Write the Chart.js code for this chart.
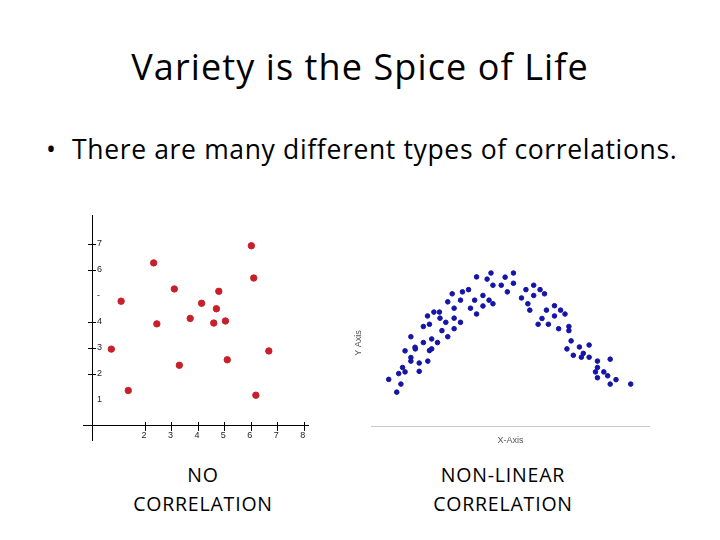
<!DOCTYPE html>
<html>
<head>
  <title>Variety is the Spice of Life</title>
  <script src="https://cdn.jsdelivr.net/npm/chart.js"></script>
  <style>
    body { margin: 0; background: #fff; width: 720px; height: 540px; overflow: hidden; position: relative; font-family: "Open Sans", Lato, sans-serif; color: #000; }
    .txt { position: absolute; white-space: nowrap; }
    #title { left: 0; width: 720px; top: 42px; text-align: center; font-size: 36px; letter-spacing: 1.1px; }
    #bullet { left: 46px; top: 131px; font-size: 26.5px; letter-spacing: 0.65px; }
    #bullet span { display: inline-block; width: 26px; }
    .label { text-align: center; font-size: 19.5px; line-height: 29px; top: 460px; width: 240px; letter-spacing: 0.8px; }
    #lbl1 { left: 83px; }
    #lbl2 { left: 383px; }
    canvas { position: absolute; }
    #noCorr { left: 60px; top: 200px; }
    #nonLin { left: 345px; top: 240px; }
  </style>
</head>
<body>
  <div class="txt" id="title">Variety is the Spice of Life</div>
  <div class="txt" id="bullet"><span>•</span>There are many different types of correlations.</div>
  <div class="txt label" id="lbl1">NO<br>CORRELATION</div>
  <div class="txt label" id="lbl2">NON-LINEAR<br>CORRELATION</div>

  <canvas id="noCorr" width="270" height="260"></canvas>
  <canvas id="nonLin" width="320" height="230"></canvas>

  <script>
    // --- DATA ---

    // left chart: scattered points, no correlation
    const noCorrX = [0.73, 1.10, 1.37, 2.33, 2.45, 3.11, 3.30, 3.71, 4.14, 4.60, 4.70, 4.79, 5.04, 5.11, 6.02, 6.11, 6.19, 6.68];
    const noCorrY = [2.95, 4.79, 1.36, 6.26, 3.92, 5.26, 2.33, 4.13, 4.71, 3.95, 4.50, 5.17, 4.03, 2.54, 6.92, 5.68, 1.18, 2.88];
    const xTickVals = [2, 3, 4, 5, 6, 7, 8];
    const xTickLabels = ['2', '3', '4', '5', '6', '7', '8'];
    const yTickVals = [1, 2, 3, 4, 5, 6, 7];
    const yTickLabels = ['1', '2', '3', '4', '-', '6', '7'];
    const yNoTick = [1, 5]; // these labels have no tick mark

    // right chart: arch shaped cloud, non-linear correlation
    const nonLinX = [6.1, 9.0, 9.7, 10.5, 11.1, 12.0, 12.0, 14.1, 14.1, 14.1, 15.6, 15.7, 17.1, 17.1, 18.6, 18.6,
      20.1, 20.2, 20.8, 20.8, 21.6, 21.6, 22.4, 23.7, 24.4, 24.6, 25.3, 26.7, 27.4, 27.4, 29.0, 29.7, 29.7, 29.7,
      32.0, 32.0, 32.7, 34.9, 35.6, 37.1, 37.8, 37.8, 40.1, 40.1, 41.6, 42.3, 43.0, 43.7, 43.7, 46.7, 48.1, 48.9,
      51.1, 51.1, 54.0, 55.6, 56.3, 57.0, 58.4, 58.4, 60.0, 60.7, 61.4, 62.3, 63.0, 63.7, 65.9, 65.9, 67.4, 68.1,
      69.7, 71.1, 71.1, 71.9, 70.4, 72.7, 74.9, 75.6, 76.3, 78.4, 78.4, 80.7, 81.4, 81.4, 81.4, 83.7, 85.1, 86.0,
      86.0, 88.1, 93.4];
    const nonLinY = [16.9, 12.3, 19.0, 15.2, 21.2, 19.6, 27.2, 32.3, 24.8, 23.5, 28.5, 27.9, 22.8, 19.8, 36.0, 30.2,
      39.8, 23.5, 36.8, 27.3, 31.5, 27.9, 41.2, 30.2, 41.2, 39.0, 34.5, 37.5, 32.3, 44.9, 47.8, 42.6, 39.0, 35.2,
      45.5, 37.5, 48.5, 49.3, 42.6, 45.5, 53.9, 40.5, 47.2, 43.4, 53.1, 45.5, 55.3, 50.9, 44.2, 50.9, 53.8, 48.5,
      55.3, 51.6, 46.3, 49.3, 44.2, 41.9, 50.9, 47.2, 36.8, 49.3, 38.9, 47.8, 41.9, 36.8, 43.5, 39.8, 35.2, 41.9,
      40.5, 36.0, 34.5, 30.8, 27.9, 25.6, 28.6, 24.9, 26.3, 29.3, 24.9, 19.6, 23.5, 21.2, 17.5, 19.6, 18.2, 24.2,
      15.2, 16.8, 15.2];

    const toPoints = (xs, ys) => xs.map((x, i) => ({ x: x, y: ys[i] }));

    // crossing tick marks + labels for the axes that sit at x=0 / y=0
    const crossTicks = {
      id: 'crossTicks',
      afterDraw(chart) {
        const { ctx, scales: { x, y } } = chart;
        const x0 = x.getPixelForValue(0), y0 = y.getPixelForValue(0);
        ctx.save();
        ctx.strokeStyle = '#000';
        ctx.lineWidth = 1;
        ctx.fillStyle = '#222';
        ctx.font = '9px "Liberation Sans"';
        ctx.beginPath();
        xTickVals.forEach((v, i) => {
          const px = Math.round(x.getPixelForValue(v)) + 0.5;
          ctx.moveTo(px, y0 - 4); ctx.lineTo(px, y0 + 5);
        });
        yTickVals.forEach(v => {
          if (yNoTick.includes(v)) return;
          const py = Math.round(y.getPixelForValue(v)) + 0.5;
          ctx.moveTo(x0 - 4, py); ctx.lineTo(x0 + 4, py);
        });
        ctx.stroke();
        ctx.textAlign = 'center'; ctx.textBaseline = 'middle';
        xTickVals.forEach((v, i) => ctx.fillText(xTickLabels[i], x.getPixelForValue(v) - 1, y0 + 10));
        ctx.textAlign = 'left';
        yTickVals.forEach((v, i) => ctx.fillText(yTickLabels[i], x0 + 5, y.getPixelForValue(v)));
        ctx.restore();
      }
    };

    // --- LEFT CHART ---
    new Chart(document.getElementById('noCorr'), {
      type: 'scatter',
      data: {
        datasets: [{
          data: toPoints(noCorrX, noCorrY),
          backgroundColor: '#c8202a',
          borderColor: '#c8202a',
          pointRadius: 3.2,
          pointHoverRadius: 3.2
        }]
      },
      options: {
        responsive: false,
        animation: false,
        layout: { padding: { left: 23, top: 15, right: 22, bottom: 20 } },
        plugins: { legend: { display: false }, tooltip: { enabled: false } },
        scales: {
          x: {
            type: 'linear',
            min: -0.34, max: 8.16,
            position: { y: 0 },
            ticks: { display: false },
            grid: { display: false },
            border: { color: '#000', width: 1 }
          },
          y: {
            type: 'linear',
            min: -0.54, max: 8.1,
            position: { x: 0 },
            ticks: { display: false },
            grid: { display: false },
            border: { color: '#000', width: 1 }
          }
        }
      },
      plugins: [crossTicks]
    });

    // --- RIGHT CHART ---
    new Chart(document.getElementById('nonLin'), {
      type: 'scatter',
      data: {
        datasets: [{
          data: toPoints(nonLinX, nonLinY),
          backgroundColor: '#1414a8',
          borderColor: '#1414a8',
          pointRadius: 2.3,
          pointHoverRadius: 2.3
        }]
      },
      options: {
        responsive: false,
        animation: false,
        layout: { padding: { left: 4, top: 20, right: 16, bottom: 20 } },
        plugins: { legend: { display: false }, tooltip: { enabled: false } },
        scales: {
          x: {
            type: 'linear', min: 0, max: 100,
            ticks: { display: false },
            grid: { display: false },
            border: { display: true, color: '#c8c8c8', width: 1 },
            title: { display: true, text: 'X-Axis', color: '#555', font: { family: 'Liberation Sans', size: 9 }, padding: { top: 1, bottom: 4 } }
          },
          y: {
            type: 'linear', min: 0, max: 60,
            ticks: { display: false },
            grid: { display: false },
            border: { display: false },
            title: { display: true, text: 'Y Axis', color: '#555', font: { family: 'Liberation Sans', size: 9 }, padding: { top: 4, bottom: 0 } }
          }
        }
      }
    });
  </script>
</body>
</html>
